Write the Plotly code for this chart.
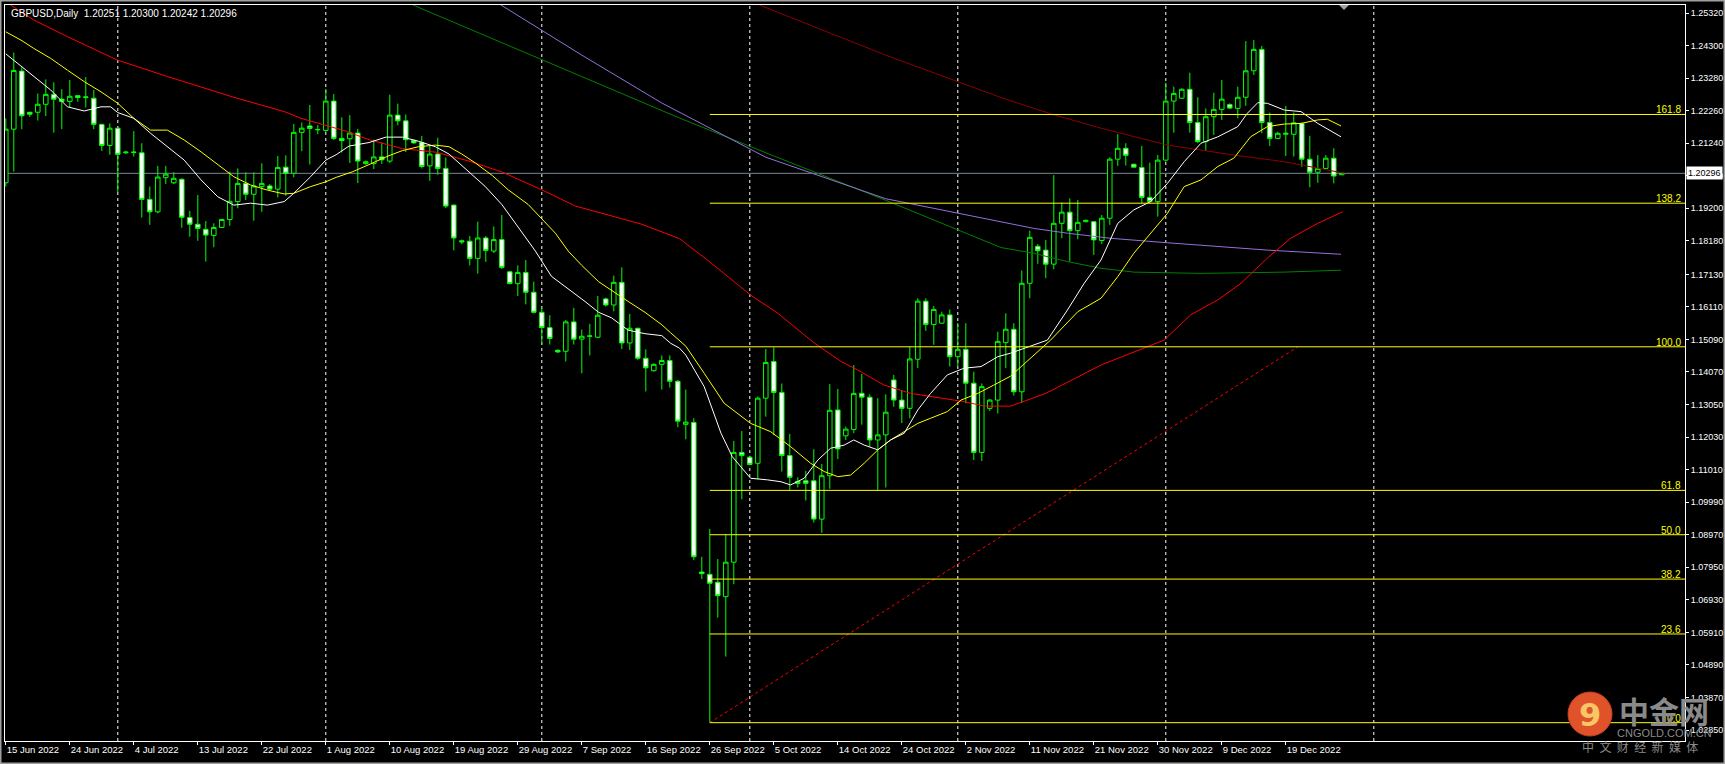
import pandas as pd
import plotly.graph_objects as go

# ---------------- data ----------------
symbol_title = "GBPUSD,Daily  1.20251 1.20300 1.20242 1.20296"
first_bar_date = "2022-06-15"   # broker feed: Sunday..Friday bars (no Saturday)
grid_last_date = "2023-01-01"   # last monthly separator shown in the chart-shift area
last_price = 1.20296

opens = [1.2000, 1.2168, 1.2350, 1.2221, 1.2221, 1.2246, 1.2277, 1.2262, 1.2255, 1.2273,
         1.2267, 1.2265, 1.2183, 1.2117, 1.2171, 1.2094, 1.2095, 1.2094, 1.1948, 1.1909,
         1.2016, 1.2000, 1.2011, 1.1891, 1.1870, 1.1854, 1.1835, 1.1860, 1.1885, 1.1941,
         1.1998, 1.1964, 1.1988, 1.1990, 1.1980, 1.2049, 1.2030, 1.2158, 1.2178, 1.2166,
         1.2164, 1.2256, 1.2139, 1.2138, 1.2156, 1.2060, 1.2060, 1.2081, 1.2068, 1.2212,
         1.2194, 1.2133, 1.2126, 1.2053, 1.2090, 1.2045, 1.1930, 1.1818, 1.1817, 1.1763,
         1.1827, 1.1786, 1.1822, 1.1721, 1.1684, 1.1719, 1.1657, 1.1594, 1.1546, 1.1475,
         1.1472, 1.1564, 1.1510, 1.1519, 1.1516, 1.1636, 1.1617, 1.1688, 1.1498, 1.1544,
         1.1450, 1.1411, 1.1431, 1.1443, 1.1378, 1.1243, 1.1249, 1.0780, 1.0773, 1.0748,
         1.0703, 1.0811, 1.1155, 1.1140, 1.1121, 1.1325, 1.1440, 1.1343, 1.1145, 1.1064,
         1.1066, 1.1066, 1.0946, 1.1082, 1.1288, 1.1207, 1.1227, 1.1340, 1.1328, 1.1194,
         1.1210, 1.1382, 1.1319, 1.1293, 1.1447, 1.1629, 1.1556, 1.1560, 1.1586, 1.1455,
         1.1478, 1.1372, 1.1155, 1.1293, 1.1319, 1.1499, 1.1541, 1.1345, 1.1685, 1.1801,
         1.1789, 1.1745, 1.1873, 1.1908, 1.1850, 1.1878, 1.1878, 1.1819, 1.1889, 1.2074,
         1.2108, 1.2058, 1.2048, 1.1954, 1.1941, 1.2071, 1.2256, 1.2265, 1.2293, 1.2189,
         1.2129, 1.2207, 1.2230, 1.2245, 1.2233, 1.2268, 1.2351, 1.2418, 1.2189, 1.2139,
         1.2152, 1.2152, 1.2186, 1.2074, 1.2033, 1.2045, 1.2077, 1.20251]
highs = [1.2202, 1.2408, 1.2362, 1.2222, 1.2280, 1.2324, 1.2315, 1.2293, 1.2322, 1.2273,
         1.2331, 1.2291, 1.2185, 1.2186, 1.2175, 1.2100, 1.2162, 1.2124, 1.1988, 1.2053,
         1.2053, 1.2033, 1.2014, 1.1912, 1.1962, 1.1880, 1.1873, 1.1886, 1.2035, 1.2045,
         1.2033, 1.2033, 1.2061, 1.1996, 1.2084, 1.2086, 1.2184, 1.2189, 1.2244, 1.2181,
         1.2294, 1.2278, 1.2205, 1.2212, 1.2169, 1.2070, 1.2135, 1.2126, 1.2276, 1.2248,
         1.2214, 1.2135, 1.2147, 1.2115, 1.2141, 1.2079, 1.1932, 1.1822, 1.1833, 1.1878,
         1.1833, 1.1863, 1.1899, 1.1724, 1.1741, 1.1758, 1.1690, 1.1611, 1.1585, 1.1478,
         1.1570, 1.1608, 1.1540, 1.1558, 1.1645, 1.1640, 1.1709, 1.1735, 1.1589, 1.1546,
         1.1478, 1.1434, 1.1459, 1.1459, 1.1382, 1.1352, 1.1262, 1.0828, 1.0915, 1.0821,
         1.0899, 1.1191, 1.1222, 1.1145, 1.1330, 1.1479, 1.1484, 1.1371, 1.1213, 1.1077,
         1.1097, 1.1165, 1.1119, 1.1369, 1.1354, 1.1236, 1.1429, 1.1401, 1.1337, 1.1325,
         1.1337, 1.1398, 1.1351, 1.1486, 1.1638, 1.1638, 1.1614, 1.1596, 1.1603, 1.1560,
         1.1560, 1.1408, 1.1371, 1.1322, 1.1533, 1.1591, 1.1560, 1.1725, 1.1850, 1.1808,
         1.1821, 1.2024, 1.1938, 1.1951, 1.1946, 1.1885, 1.1880, 1.1899, 1.2080, 1.2153,
         1.2124, 1.2060, 1.2115, 1.2063, 1.2087, 1.2314, 1.2301, 1.2296, 1.2345, 1.2268,
         1.2233, 1.2282, 1.2322, 1.2249, 1.2301, 1.2444, 1.2447, 1.2429, 1.2220, 1.2160,
         1.2241, 1.2220, 1.2188, 1.2147, 1.2087, 1.2087, 1.2108, 1.20300]
lows = [1.1988, 1.2035, 1.2168, 1.2206, 1.2195, 1.2209, 1.2157, 1.2168, 1.2236, 1.2254,
        1.2236, 1.2168, 1.2100, 1.2088, 1.1969, 1.2090, 1.2082, 1.1891, 1.1868, 1.1904,
        1.1996, 1.1996, 1.1859, 1.1831, 1.1818, 1.1753, 1.1798, 1.1858, 1.1865, 1.1920,
        1.1946, 1.1881, 1.1909, 1.1976, 1.1954, 1.1959, 1.2017, 1.2099, 1.2057, 1.2152,
        1.2158, 1.2134, 1.2095, 1.2062, 1.1999, 1.2056, 1.2043, 1.2059, 1.2062, 1.2180,
        1.2096, 1.2122, 1.2045, 1.2006, 1.2025, 1.1921, 1.1788, 1.1808, 1.1741, 1.1715,
        1.1752, 1.1780, 1.1730, 1.1682, 1.1645, 1.1619, 1.1591, 1.1493, 1.1493, 1.1466,
        1.1440, 1.1493, 1.1403, 1.1459, 1.1513, 1.1612, 1.1597, 1.1479, 1.1476, 1.1445,
        1.1346, 1.1408, 1.1352, 1.1358, 1.1234, 1.1196, 1.0818, 1.0758, 1.0308, 1.0637,
        1.0515, 1.0742, 1.1008, 1.1115, 1.1071, 1.1267, 1.1209, 1.1095, 1.1037, 1.1045,
        1.1004, 1.0935, 1.0903, 1.1041, 1.1134, 1.1194, 1.1215, 1.1242, 1.1173, 1.1037,
        1.1045, 1.1298, 1.1247, 1.1262, 1.1419, 1.1536, 1.1492, 1.1558, 1.1424, 1.1424,
        1.1309, 1.1131, 1.1128, 1.1285, 1.1277, 1.1419, 1.1333, 1.1310, 1.1638, 1.1746,
        1.1701, 1.1729, 1.1826, 1.1753, 1.1823, 1.1876, 1.1774, 1.1808, 1.1868, 1.2053,
        1.2054, 1.2049, 1.1936, 1.1938, 1.1894, 1.2066, 1.2157, 1.2263, 1.2157, 1.2124,
        1.2100, 1.2150, 1.2197, 1.2232, 1.2202, 1.2241, 1.2338, 1.2155, 1.2115, 1.2137,
        1.2084, 1.2082, 1.2050, 1.1986, 1.2000, 1.2045, 1.1998, 1.20242]
closes = [1.2168, 1.2352, 1.2210, 1.2215, 1.2246, 1.2277, 1.2262, 1.2255, 1.2271, 1.2267,
          1.2269, 1.2183, 1.2117, 1.2171, 1.2089, 1.2096, 1.2096, 1.1948, 1.1909, 1.2018,
          1.2027, 1.2014, 1.1892, 1.1870, 1.1857, 1.1836, 1.1860, 1.1885, 1.1942, 1.1998,
          1.1964, 1.1990, 1.1998, 1.1980, 1.2048, 1.2030, 1.2158, 1.2171, 1.2170, 1.2167,
          1.2256, 1.2139, 1.2132, 1.2156, 1.2068, 1.2066, 1.2081, 1.2072, 1.2212, 1.2194,
          1.2135, 1.2125, 1.2051, 1.2090, 1.2045, 1.1927, 1.1827, 1.1815, 1.1763, 1.1827,
          1.1788, 1.1822, 1.1735, 1.1684, 1.1719, 1.1657, 1.1594, 1.1546, 1.1512, 1.1470,
          1.1564, 1.1510, 1.1519, 1.1520, 1.1585, 1.1617, 1.1688, 1.1498, 1.1544, 1.1450,
          1.1420, 1.1431, 1.1443, 1.1378, 1.1253, 1.1250, 1.0828, 1.0775, 1.0745, 1.0706,
          1.0811, 1.1155, 1.1145, 1.1117, 1.1325, 1.1437, 1.1343, 1.1145, 1.1077, 1.1058,
          1.1058, 1.0946, 1.1082, 1.1287, 1.1166, 1.1228, 1.1340, 1.1328, 1.1194, 1.1210,
          1.1281, 1.1319, 1.1293, 1.1448, 1.1629, 1.1556, 1.1603, 1.1586, 1.1455, 1.1478,
          1.1372, 1.1155, 1.1361, 1.1319, 1.1503, 1.1541, 1.1345, 1.1685, 1.1829, 1.1787,
          1.1745, 1.1873, 1.1908, 1.1850, 1.1876, 1.1882, 1.1821, 1.1889, 1.2074, 1.2108,
          1.2086, 1.2049, 1.1954, 1.1941, 1.2071, 1.2256, 1.2280, 1.2293, 1.2189, 1.2129,
          1.2207, 1.2230, 1.2262, 1.2234, 1.2268, 1.2351, 1.2418, 1.2189, 1.2139, 1.2155,
          1.2155, 1.2188, 1.2074, 1.2033, 1.2045, 1.2077, 1.2021, 1.20296]

# moving averages at sample bars (bar index, price)
ma_fast_x = [0, 3.5, 5.6, 7.7, 9.8, 11.9, 13.1, 14, 16, 18.1, 20.2, 22.3, 24.4, 26.5, 28.5, 30.6,
             32.7, 34.8, 36, 38.1, 40, 41.3, 42.9, 45.4, 47.5, 49.6, 51.6, 53.7, 55.4, 57.9, 59.9,
             62, 64.1, 66.2, 68.2, 70.3, 72.4, 74.1, 75.7, 77.8, 79.9, 82, 83.1, 84.2, 85, 87.3,
             89.4, 90.8, 93.1, 95.2, 96.9, 98.1, 99.8, 101.5, 103.1, 104.8, 106, 107.3, 109,
             110.6, 112.3, 114, 115.6, 117.7, 119.8, 121.9, 124, 125.6, 130.2, 132.7, 134.8,
             136.9, 139, 141, 143.1, 145.2, 147.3, 149.4, 151.5, 154, 155.2, 156.5, 157.7, 159.8,
             161.9, 164, 166.9]
ma_fast_y = [1.2404, 1.2332, 1.2291, 1.2238, 1.2225, 1.2238, 1.2238, 1.2220, 1.2202, 1.2155,
             1.2113, 1.2071, 1.2009, 1.1956, 1.1930, 1.1936, 1.1930, 1.1941, 1.1967, 1.2019,
             1.2071, 1.2088, 1.2115, 1.2126, 1.2143, 1.2143, 1.2130, 1.2113, 1.2090, 1.2034,
             1.1989, 1.1932, 1.1859, 1.1786, 1.1707, 1.1668, 1.1628, 1.1594, 1.1577, 1.1538,
             1.1527, 1.1521, 1.1497, 1.1482, 1.1460, 1.1361, 1.1215, 1.1142, 1.1074, 1.1069,
             1.1063, 1.1053, 1.1074, 1.1131, 1.1168, 1.1178, 1.1194, 1.1178, 1.1163, 1.1194,
             1.1215, 1.1288, 1.1340, 1.1398, 1.1419, 1.1424, 1.1455, 1.1466, 1.1507, 1.1601,
             1.1685, 1.1758, 1.1873, 1.1915, 1.1941, 1.1998, 1.2066, 1.2124, 1.2144, 1.2176,
             1.2218, 1.2251, 1.2249, 1.2228, 1.2223, 1.2186, 1.2144]
ma_mid_x = [0, 1.9, 3.5, 5.6, 7.7, 9.8, 11.9, 14, 16, 18.1, 20.2, 22.3, 24.4, 26.5, 28.5, 30.6,
            32.7, 34.8, 36, 38.1, 40, 41.3, 43.3, 45.4, 47.9, 49.6, 51.6, 53.7, 55.4, 57, 58.7,
            60.8, 62.8, 65.3, 67, 68.7, 70.3, 72, 74.1, 75.7, 77.8, 79.9, 82, 83.1, 85, 87.3,
            89.8, 93.1, 95.6, 98.1, 100.6, 102.3, 104, 105.6, 107.3, 109, 110.6, 112.3, 114,
            115.6, 117.7, 119.4, 121.5, 123.5, 125.6, 130.6, 134, 136.9, 139, 141, 143.1, 145.2,
            147.3, 149.4, 151.5, 153.5, 155.6, 157.7, 159.8, 161.9, 164, 165.2, 166.9]
ma_mid_y = [1.2473, 1.2447, 1.2421, 1.2390, 1.2353, 1.2317, 1.2285, 1.2249, 1.2202, 1.2165,
            1.2165, 1.2134, 1.2097, 1.2056, 1.2019, 1.1993, 1.1977, 1.1965, 1.1967, 1.1988,
            1.2003, 1.2017, 1.2034, 1.2057, 1.2085, 1.2101, 1.2113, 1.2118, 1.2113, 1.2090,
            1.2062, 1.2023, 1.1978, 1.1932, 1.1887, 1.1842, 1.1786, 1.1741, 1.1690, 1.1662,
            1.1628, 1.1594, 1.1555, 1.1530, 1.1488, 1.1403, 1.1309, 1.1246, 1.1220, 1.1173,
            1.1121, 1.1095, 1.1079, 1.1084, 1.1121, 1.1163, 1.1194, 1.1220, 1.1246, 1.1262,
            1.1283, 1.1319, 1.1340, 1.1366, 1.1394, 1.1507, 1.1596, 1.1638, 1.1706, 1.1779,
            1.1842, 1.1904, 1.1988, 1.2009, 1.2051, 1.2077, 1.2144, 1.2176, 1.2184, 1.2186,
            1.2197, 1.2199, 1.2178]
ma_red_x = [0.6, 3.5, 7.7, 13.9, 20.2, 28.5, 34.8, 36.9, 42.5, 45.4, 49.6, 53.7, 57.9, 62, 67,
            71.2, 75.3, 79.5, 84.2, 87.7, 93.1, 96.5, 101.1, 104.4, 106.5, 109.8, 113.1, 116.5,
            119.8, 122.3, 125.6, 130, 137, 144.8, 148.1, 151.5, 154.4, 157.7, 160.6, 164, 167.1]
ma_red_y = [1.2557, 1.2510, 1.2458, 1.2385, 1.2333, 1.2268, 1.2223, 1.2202, 1.2162, 1.2135,
            1.2107, 1.2096, 1.2068, 1.2034, 1.1978, 1.1927, 1.1899, 1.1870, 1.1825, 1.1758,
            1.1648, 1.1591, 1.1497, 1.1440, 1.1413, 1.1366, 1.1340, 1.1328, 1.1314, 1.1300,
            1.1300, 1.1340, 1.1430, 1.1507, 1.1586, 1.1633, 1.1685, 1.1764, 1.1826, 1.1873,
            1.1909]
ma_maroon_x = [94.2, 110, 124.4, 130.6, 136.9, 145.2, 153.5, 159.8, 167.3]
ma_maroon_y = [1.2557, 1.2400, 1.2267, 1.2216, 1.2171, 1.2118, 1.2087, 1.2066, 1.2030]
ma_purple_x = [61.9, 72, 82, 95, 110, 124.4, 128.5, 132.7, 138.1, 145.2, 151.5, 157.7, 166.9]
ma_purple_y = [1.2557, 1.2400, 1.2250, 1.2080, 1.1950, 1.1876, 1.1857, 1.1842, 1.1826, 1.1812,
               1.1800, 1.1789, 1.1776]
ma_green_x = [50.9, 79, 84.2, 95, 110, 124.4, 128.5, 132.7, 136.9, 141, 149.4, 159.8, 166.9]
ma_green_y = [1.2557, 1.2259, 1.2203, 1.2094, 1.1945, 1.1797, 1.1779, 1.1753, 1.1732, 1.1720,
              1.1716, 1.1720, 1.1726]

# Fibonacci expansion drawn on the chart
fib_levels = [0.0, 23.6, 38.2, 50.0, 61.8, 100.0, 138.2, 161.8]
fib_low_price = 1.0308      # 0.0 level (Sep 26 low)
fib_high_price = 1.1486     # 100.0 level
fib_end_bar = 161.5         # end of the dashed trend line

x_tick_labels = ["15 Jun 2022", "24 Jun 2022", "4 Jul 2022", "13 Jul 2022", "22 Jul 2022",
                 "1 Aug 2022", "10 Aug 2022", "19 Aug 2022", "29 Aug 2022", "7 Sep 2022",
                 "16 Sep 2022", "26 Sep 2022", "5 Oct 2022", "14 Oct 2022", "24 Oct 2022",
                 "2 Nov 2022", "11 Nov 2022", "21 Nov 2022", "30 Nov 2022", "9 Dec 2022",
                 "19 Dec 2022"]
y_ticks = [1.25320, 1.24300, 1.23280, 1.22260, 1.21240, 1.20220, 1.19200, 1.18180, 1.17130,
           1.16110, 1.15090, 1.14070, 1.13050, 1.12030, 1.11010, 1.09990, 1.08970, 1.07950,
           1.06930, 1.05910, 1.04890, 1.03870, 1.02850]

# ---------------- layout helpers ----------------
W, H = 1725, 764
ML, MR, MT, MB = 5, 40, 5, 23
PW, PH = W - ML - MR, H - MT - MB
BAR_PX = 8.0
X0 = -0.1
X1 = X0 + PW / BAR_PX
Y_TOP = 1.25571
Y_BOT = 1.02506


def pxx(p):
    return (p - ML) / PW


def pxy(p):
    return 1 - (p - MT) / PH


n = len(closes)
cal = [d for d in pd.date_range(first_bar_date, periods=400) if d.weekday() != 5]
idx = list(range(n))
month_starts = [k for k in range(1, len(cal))
                if cal[k].month != cal[k - 1].month and cal[k] <= pd.Timestamp(grid_last_date)]

date_pos = {d.strftime("%Y-%m-%d"): k for k, d in enumerate(cal)}
tickvals = [date_pos[pd.to_datetime(t, format="%d %b %Y").strftime("%Y-%m-%d")] for t in x_tick_labels]

FONT = "Tahoma, 'Liberation Sans', Arial, sans-serif"
GREEN = "#00FF00"

fig = go.Figure()

fig.add_trace(go.Candlestick(
    x=idx, open=opens, high=highs, low=lows, close=closes,
    increasing=dict(line=dict(color=GREEN, width=1), fillcolor="#000000"),
    decreasing=dict(line=dict(color=GREEN, width=1), fillcolor="#FFFFFF"),
    whiskerwidth=0, hoverinfo="skip", showlegend=False,
))

for xs, ys, col in [
    (ma_green_x, ma_green_y, "#008000"),
    (ma_purple_x, ma_purple_y, "#9370DB"),
    (ma_maroon_x, ma_maroon_y, "#8B0000"),
    (ma_red_x, ma_red_y, "#FF0000"),
    (ma_mid_x, ma_mid_y, "#FFFF00"),
    (ma_fast_x, ma_fast_y, "#FFFFFF"),
]:
    fig.add_trace(go.Scatter(x=xs, y=ys, mode="lines", line=dict(color=col, width=1),
                             hoverinfo="skip", showlegend=False))

# fib trend line (red dotted)
fib_start_bar = lows.index(min(lows))
fig.add_trace(go.Scatter(x=[fib_start_bar, fib_end_bar], y=[fib_low_price, fib_high_price],
                         mode="lines", line=dict(color="#FF0000", width=1, dash="dot"),
                         hoverinfo="skip", showlegend=False))

shapes = []
# monthly vertical separators
for k in month_starts:
    shapes.append(dict(type="line", xref="x", yref="paper", x0=k, x1=k, y0=0, y1=1,
                       line=dict(color="#FFFFFF", width=1, dash="3px,3px"), layer="below"))
# bid line
shapes.append(dict(type="line", xref="paper", yref="y", x0=0, x1=1, y0=last_price, y1=last_price,
                   line=dict(color="#778899", width=1), layer="below"))
annotations = []
for lv in fib_levels:
    price = fib_low_price + (fib_high_price - fib_low_price) * lv / 100.0
    shapes.append(dict(type="line", xref="x", yref="y", x0=fib_start_bar, x1=X1, y0=price, y1=price,
                       line=dict(color="#FFFF00", width=1)))
    annotations.append(dict(x=1, xref="paper", y=price, yref="y", text=f"{lv:.1f}",
                            xanchor="right", yanchor="bottom", xshift=-2, yshift=-3, showarrow=False,
                            font=dict(family=FONT, size=10, color="#FFFF00")))

# outer window border
shapes.append(dict(type="rect", xref="paper", yref="paper", x0=pxx(0.5), x1=pxx(W - 0.5),
                   y0=pxy(H - 0.5), y1=pxy(0.5), line=dict(color="#A0A0A0", width=2)))
# chart-shift marker
tx = 1344
shapes.append(dict(type="path", xref="paper", yref="paper",
                   path=f"M {pxx(tx-5)} {pxy(5)} L {pxx(tx+5)} {pxy(5)} L {pxx(tx)} {pxy(10)} Z",
                   fillcolor="#A0A0A0", line=dict(width=0)))

# watermark logo
cx, cy, r = 1590, 714, 22
shapes.append(dict(type="circle", xref="paper", yref="paper", x0=pxx(cx - r), x1=pxx(cx + r),
                   y0=pxy(cy + r), y1=pxy(cy - r), fillcolor="#E0522A",
                   line=dict(color="#C9401E", width=1), layer="above"))
logo_texts = [
    (cx, cy + 1, "<b>9</b>", "DejaVu Sans", 32, "#F7C766"),
    (1664, 710, "<b>中金网</b>", "Noto Sans CJK SC", 30, "#8A8A8A"),
    (1664, 733, "CNGOLD.COM.CN", "Liberation Sans", 11, "#8A8A8A"),
    (1640, 746, "\u00a0\u00a0".join("中文财经新媒体"), "Noto Sans CJK SC", 12, "#8A8A8A"),
]
for lx, ly, txt, fam, sz, col in logo_texts:
    annotations.append(dict(x=pxx(lx), y=pxy(ly), xref="paper", yref="paper", text=txt,
                            xanchor="center", yanchor="middle", showarrow=False,
                            font=dict(family=fam, size=sz, color=col)))

# title
annotations.append(dict(x=pxx(9), y=pxy(13), xref="paper", yref="paper", text=symbol_title,
                        xanchor="left", yanchor="middle", showarrow=False,
                        font=dict(family=FONT, size=10, color="#FFFFFF")))
# current price label
annotations.append(dict(x=1, xref="paper", y=last_price, yref="y", text=f"{last_price:.5f}",
                        xanchor="left", yanchor="middle", xshift=1, showarrow=False,
                        bgcolor="#FFFFFF", borderpad=1,
                        font=dict(family=FONT, size=9, color="#000000")))

fig.update_layout(
    width=W, height=H,
    margin=dict(l=ML, r=MR, t=MT, b=MB, pad=0, autoexpand=False),
    paper_bgcolor="#000000", plot_bgcolor="#000000",
    showlegend=False, hovermode=False,
    boxgap=0.2, boxgroupgap=0.3,
    shapes=shapes, annotations=annotations,
    xaxis=dict(range=[X0, X1], showgrid=False, zeroline=False, rangeslider=dict(visible=False),
               tickmode="array", tickvals=tickvals, ticktext=x_tick_labels, tickangle=0,
               automargin=False,
               ticks="outside", ticklen=3, tickcolor="#FFFFFF", ticklabelposition="outside right",
               tickfont=dict(family=FONT, size=9.5, color="#FFFFFF"),
               showline=True, linecolor="#FFFFFF", linewidth=1, mirror=True),
    yaxis=dict(range=[Y_BOT, Y_TOP], side="right", showgrid=False, zeroline=False,
               automargin=False,
               tickmode="array", tickvals=y_ticks, ticktext=[f"{v:.5f}" for v in y_ticks],
               ticks="outside", ticklen=3, tickcolor="#FFFFFF",
               tickfont=dict(family=FONT, size=9, color="#FFFFFF"),
               showline=True, linecolor="#FFFFFF", linewidth=1, mirror=True),
)

fig.write_html("out.html", config={"displayModeBar": False},
               post_script="document.body.style.margin='0px';document.body.style.background='#000';")
